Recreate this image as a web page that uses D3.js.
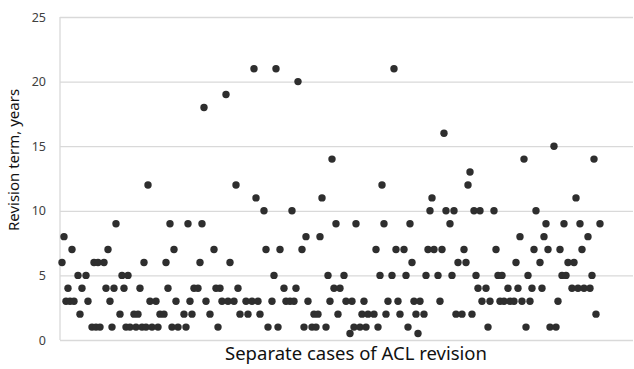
<!DOCTYPE html>
<html>
<head>
<meta charset="utf-8">
<script src="https://cdn.jsdelivr.net/npm/d3@7"></script>
<style>
  html, body { margin: 0; padding: 0; background: #fff; }
  svg text { font-family: "Noto Sans", "Open Sans", sans-serif; }
</style>
</head>
<body>
<div id="chart"></div>
<script>
// case number (x) and revision term in years (y)
const caseNo = [
  1, 2, 3, 4, 5, 6, 7, 9, 10, 11, 13, 14, 16, 17, 18, 19, 20, 22, 23, 24,
  25, 26, 27, 28, 30, 31, 32, 33, 34, 35, 37, 38, 39, 40, 41, 42, 43, 44, 45, 46,
  48, 49, 50, 52, 53, 54, 55, 56, 57, 58, 59, 62, 63, 64, 65, 66, 67, 69, 70, 71,
  72, 73, 75, 77, 78, 79, 80, 81, 83, 84, 85, 87, 88, 89, 90, 93, 94, 96, 97, 98,
  99, 100, 102, 103, 104, 106, 107, 108, 109, 110, 112, 113, 115, 116, 117, 118, 119, 121, 122, 123,
  124, 126, 127, 128, 129, 130, 131, 133, 134, 135, 136, 137, 138, 139, 140, 142, 143, 145, 146, 147,
  148, 150, 151, 152, 153, 154, 157, 158, 159, 160, 161, 162, 163, 164, 166, 167, 168, 169, 170, 172,
  173, 174, 175, 176, 177, 178, 179, 180, 182, 183, 184, 185, 186, 187, 189, 190, 191, 192, 193, 195,
  196, 197, 198, 199, 201, 202, 203, 204, 205, 206, 207, 208, 209, 210, 211, 213, 214, 215, 217, 218,
  219, 220, 221, 222, 224, 225, 227, 228, 229, 230, 231, 232, 233, 234, 235, 236, 237, 238, 240, 241,
  242, 243, 244, 245, 247, 248, 249, 250, 251, 252, 253, 254, 256, 257, 258, 259, 260, 261, 262, 264,
  265, 266, 267, 268, 270
];

const termYears = [
  6, 8, 3, 4, 3, 7, 3, 5, 2, 4, 5, 3, 1, 6, 1, 6, 1, 6, 4, 7,
  3, 1, 4, 9, 2, 5, 4, 1, 5, 1, 2, 1, 2, 4, 1, 6, 1, 12, 3, 1,
  3, 1, 2, 2, 6, 4, 9, 1, 7, 3, 1, 2, 1, 9, 3, 2, 4, 4, 6, 9,
  18, 3, 2, 7, 4, 1, 4, 3, 19, 3, 6, 3, 12, 4, 2, 3, 2, 3, 21, 11,
  3, 2, 10, 7, 1, 3, 5, 21, 1, 7, 4, 3, 3, 10, 3, 4, 20, 7, 1, 8,
  3, 1, 2, 1, 2, 8, 11, 1, 5, 3, 14, 4, 9, 2, 4, 5, 3, 0.5, 3, 1,
  9, 1, 2, 3, 1, 2, 2, 7, 1, 5, 12, 9, 2, 3, 5, 21, 7, 3, 2, 7,
  5, 1, 9, 6, 3, 2, 0.5, 3, 2, 5, 7, 10, 11, 7, 5, 3, 7, 16, 10, 9,
  5, 10, 2, 6, 2, 7, 6, 12, 13, 2, 10, 5, 4, 10, 3, 4, 1, 3, 10, 7,
  5, 3, 5, 3, 4, 3, 3, 6, 4, 8, 3, 14, 1, 5, 3, 4, 7, 10, 6, 4,
  8, 9, 7, 1, 15, 1, 3, 7, 5, 9, 5, 6, 4, 6, 11, 4, 9, 7, 4, 8,
  4, 5, 14, 2, 9
];

const yTicks = [0, 5, 10, 15, 20, 25];

const points = caseNo.map((c, i) => ({ c, v: termYears[i] }));

const width = 634;
const height = 369;
const margin = { top: 17, right: 1, bottom: 29, left: 60 };

const svg = d3.select('#chart')
  .append('svg')
  .attr('width', width)
  .attr('height', height);

const x = d3.scaleLinear()
  .domain([0, 280])
  .range([margin.left, 620]);

const y = d3.scaleLinear()
  .domain([0, 25])
  .range([height - margin.bottom, margin.top]);

// horizontal gridlines + tick labels
const yAxis = svg.append('g')
  .attr('transform', `translate(${margin.left},0)`)
  .call(d3.axisLeft(y)
    .tickValues(yTicks)
    .tickSize(-(width - margin.right - margin.left))
    .tickPadding(14));

yAxis.select('.domain').remove();
yAxis.selectAll('.tick line')
  .attr('stroke', '#d9d9d9')
  .attr('stroke-width', 1.3);
yAxis.selectAll('.tick text')
  .attr('fill', '#404040')
  .style('font-size', '12.5px');

// left axis line
svg.append('line')
  .attr('x1', margin.left).attr('x2', margin.left)
  .attr('y1', y(25)).attr('y2', y(0))
  .attr('stroke', '#d9d9d9')
  .attr('stroke-width', 1.3);

// points
svg.append('g')
  .selectAll('circle')
  .data(points)
  .join('circle')
  .attr('cx', d => x(d.c))
  .attr('cy', d => y(d.v))
  .attr('r', 3.7)
  .attr('fill', '#2e2e2e');

// axis titles
svg.append('text')
  .attr('transform', `translate(19,160) rotate(-90)`)
  .attr('text-anchor', 'middle')
  .attr('fill', '#111')
  .style('font-size', '15px')
  .text('Revision term, years');

svg.append('text')
  .attr('x', 356)
  .attr('y', 360)
  .attr('text-anchor', 'middle')
  .attr('fill', '#111')
  .style('font-size', '18.5px')
  .text('Separate cases of ACL revision');
</script>
</body>
</html>
